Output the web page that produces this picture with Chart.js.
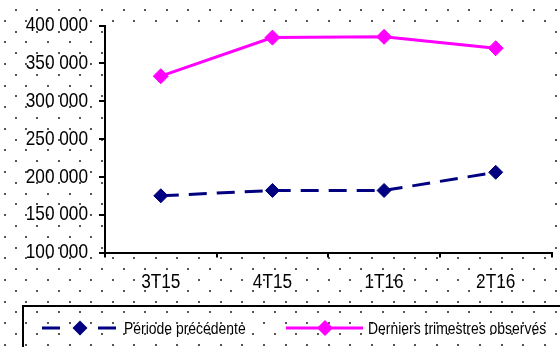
<!DOCTYPE html>
<html>
<head>
<meta charset="utf-8">
<script src="https://cdn.jsdelivr.net/npm/chart.js@4/dist/chart.umd.min.js"></script>
<style>
  html, body { margin: 0; padding: 0; background: #fff; }
  #wrap { width: 560px; height: 347px; position: relative; }
</style>
</head>
<body>
<div id="wrap"><canvas id="c" width="560" height="347"></canvas></div>
<script>
// Quarterly values
const categories = ['3T15', '4T15', '1T16', '2T16'];
const periodePrecedente = [175000, 182000, 182000, 206000];
const derniersTrimestres = [333000, 384000, 385000, 370000];
const seriesNames = ['Période précédente', 'Derniers trimestres observés'];

const FONT = "'Liberation Sans', Arial, sans-serif";
const NAVY = '#000080';
const MAGENTA = '#FF00FF';
const TEXT_SQUEEZE = 0.82; // condensed lettering

function frNumber(v) {
  return String(v).replace(/\B(?=(\d{3})+(?!\d))/g, ' ');
}

// Draw every text run horizontally condensed around its anchor point
function condenseText(ctx) {
  const fill = ctx.fillText.bind(ctx);
  ctx.fillText = function (text, x, y, maxWidth) {
    ctx.save();
    ctx.translate(x, y);
    ctx.scale(TEXT_SQUEEZE, 1);
    if (maxWidth !== undefined) fill(text, 0, 0, maxWidth / TEXT_SQUEEZE);
    else fill(text, 0, 0);
    ctx.restore();
  };
}

// Dotted page background, white plotting area
const backdrop = {
  id: 'backdrop',
  beforeDraw(chart) {
    const { ctx, width, height, chartArea } = chart;
    ctx.save();
    ctx.fillStyle = '#fff';
    ctx.fillRect(0, 0, width, height);
    ctx.fillStyle = '#555';
    const step = 21.6;
    for (let row = 0; row * step / 2 < height + step; row++) {
      const y = 9 + row * step / 2;
      const x0 = row % 2 === 0 ? 14.5 : 3.7;
      for (let x = x0; x < width; x += step) {
        ctx.fillRect(Math.round(x), Math.round(y), 2, 2);
      }
    }
    ctx.fillStyle = '#fff';
    ctx.fillRect(chartArea.left, chartArea.top, chartArea.right - chartArea.left, chartArea.bottom - chartArea.top);
    ctx.restore();
  }
};

function diamond(ctx, x, y, r, color) {
  ctx.beginPath();
  ctx.moveTo(x - r, y);
  ctx.lineTo(x, y - r);
  ctx.lineTo(x + r, y);
  ctx.lineTo(x, y + r);
  ctx.closePath();
  ctx.fillStyle = color;
  ctx.fill();
}

// Framed legend below the axis
const boxLegend = {
  id: 'boxLegend',
  afterDraw(chart) {
    const { ctx } = chart;
    const ds = chart.data.datasets;
    const cy = 328;
    ctx.save();
    ctx.strokeStyle = '#000';
    ctx.lineWidth = 2;
    ctx.strokeRect(23, 306, 600, 100);

    ctx.lineWidth = 3;
    ctx.strokeStyle = ds[0].borderColor;
    ctx.beginPath();
    ctx.moveTo(42, cy); ctx.lineTo(60, cy);
    ctx.moveTo(98, cy); ctx.lineTo(116, cy);
    ctx.stroke();
    diamond(ctx, 80, cy, 7.5, ds[0].borderColor);

    ctx.strokeStyle = ds[1].borderColor;
    ctx.beginPath();
    ctx.moveTo(286, cy); ctx.lineTo(363, cy);
    ctx.stroke();
    diamond(ctx, 325, cy, 8, ds[1].borderColor);

    ctx.fillStyle = '#000';
    ctx.font = '17px ' + FONT;
    ctx.textBaseline = 'middle';
    ctx.textAlign = 'left';
    ctx.fillText(ds[0].label, 124, cy + 1);
    ctx.fillText(ds[1].label, 368, cy + 1);
    ctx.restore();
  }
};

const canvas = document.getElementById('c');
condenseText(canvas.getContext('2d'));

new Chart(canvas, {
  type: 'line',
  data: {
    labels: categories,
    datasets: [
      {
        label: seriesNames[0],
        data: periodePrecedente,
        borderColor: NAVY,
        backgroundColor: NAVY,
        borderWidth: 3,
        borderDash: [18, 10],
        pointStyle: 'rectRot',
        pointRadius: 7,
        pointBorderWidth: 1,
        pointBackgroundColor: NAVY,
        pointBorderColor: NAVY,
        tension: 0
      },
      {
        label: seriesNames[1],
        data: derniersTrimestres,
        borderColor: MAGENTA,
        backgroundColor: MAGENTA,
        borderWidth: 3,
        pointStyle: 'rectRot',
        pointRadius: 7.5,
        pointBorderWidth: 1,
        pointBackgroundColor: MAGENTA,
        pointBorderColor: MAGENTA,
        tension: 0
      }
    ]
  },
  options: {
    responsive: false,
    animation: false,
    events: [],
    layout: { padding: { top: 25.5, right: 6, left: 0, bottom: 0 } },
    plugins: {
      legend: { display: false },
      title: { display: false },
      tooltip: { enabled: false }
    },
    scales: {
      x: {
        offset: true,
        grid: { offset: true, drawOnChartArea: false, drawTicks: true, tickLength: 5, color: '#000', lineWidth: 2 },
        border: { display: true, color: '#000', width: 2 },
        ticks: { color: '#000', font: { family: FONT, size: 21 }, padding: 12, maxRotation: 0 },
        afterFit(s) { s.height = 94.5; }
      },
      y: {
        min: 100000,
        max: 400000,
        grid: { drawOnChartArea: false, drawTicks: true, tickLength: 6, color: '#000', lineWidth: 2 },
        border: { display: true, color: '#000', width: 2 },
        ticks: {
          stepSize: 50000,
          color: '#000',
          font: { family: FONT, size: 21 },
          padding: 11,
          callback: (v) => frNumber(v)
        },
        afterFit(s) { s.width = 105; }
      }
    }
  },
  plugins: [backdrop, boxLegend]
});
</script>
</body>
</html>
